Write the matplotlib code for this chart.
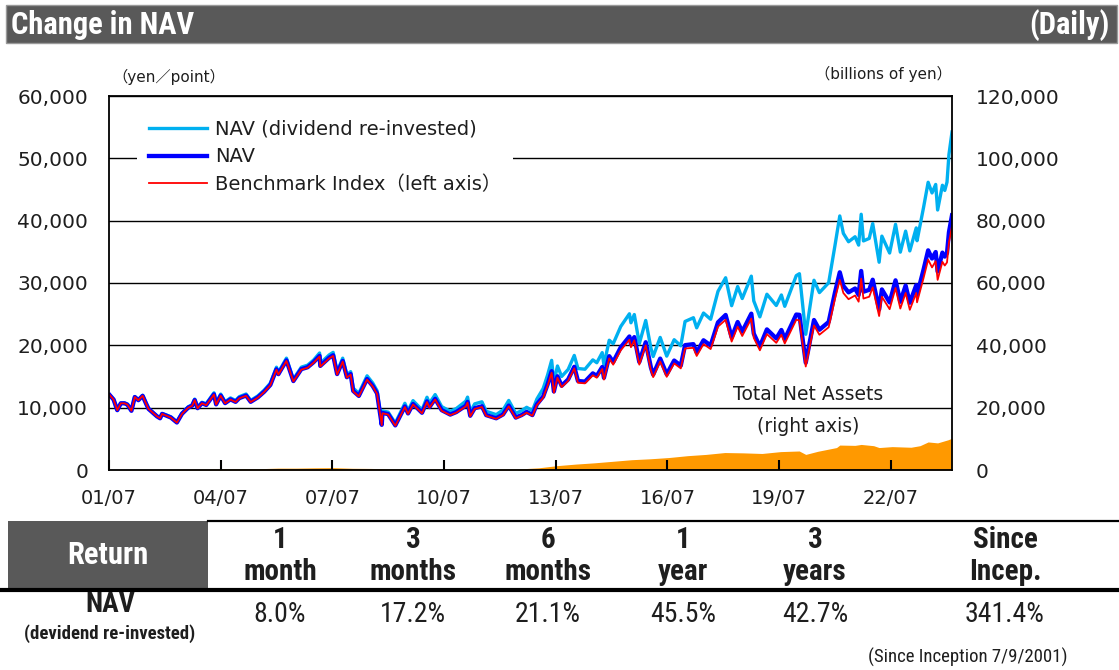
import pandas as pd
import matplotlib
matplotlib.use('Agg')
import matplotlib.pyplot as plt
import matplotlib.dates as mdates
from matplotlib.patches import Rectangle
from matplotlib.lines import Line2D
from matplotlib.ticker import FuncFormatter
from matplotlib import font_manager

plt.rcParams['font.family'] = ['DejaVu Sans', 'Noto Sans CJK JP']

installed = {f.name for f in font_manager.fontManager.ttflist}
narrow = next((n for n in ['Liberation Sans Narrow', 'DejaVu Sans Condensed', 'Roboto Condensed', 'Roboto']
               if n in installed), 'DejaVu Sans')

# --- NAV data (left axis, yen / point) ---
dates = ['2001-07-09', '2001-08-15', '2001-09-20', '2001-10-25', '2001-11-30', '2001-12-28',
         '2002-02-06', '2002-03-11', '2002-04-15', '2002-05-27', '2002-07-01', '2002-07-24', '2002-09-04', '2002-10-15', '2002-11-14', '2002-12-04',
         '2003-01-15', '2003-02-28', '2003-04-28', '2003-06-17', '2003-08-18', '2003-09-25', '2003-10-20', '2003-11-17', '2003-12-30',
         '2004-02-10', '2004-04-26', '2004-05-17', '2004-07-01', '2004-08-13', '2004-10-05', '2004-11-24', '2004-12-30',
         '2005-03-07', '2005-04-21', '2005-06-30', '2005-08-31', '2005-10-31', '2005-12-30',
         '2006-01-18', '2006-04-07', '2006-06-14', '2006-08-31', '2006-10-31', '2006-12-29',
         '2007-02-26', '2007-03-05', '2007-05-31', '2007-07-09', '2007-08-17', '2007-10-11', '2007-11-21', '2007-12-28',
         '2008-01-22', '2008-03-17', '2008-06-06', '2008-07-31', '2008-09-12', '2008-10-28', '2008-11-04', '2008-12-30',
         '2009-03-10', '2009-06-12', '2009-07-13', '2009-08-31', '2009-11-27',
         '2010-01-15', '2010-02-08', '2010-04-05', '2010-06-08', '2010-08-31', '2010-10-29',
         '2011-01-31', '2011-02-17', '2011-03-15', '2011-04-28', '2011-07-08', '2011-08-19', '2011-11-25',
         '2012-01-31', '2012-03-27', '2012-06-04', '2012-07-31', '2012-09-19', '2012-11-14', '2012-12-28',
         '2013-02-28', '2013-04-12', '2013-05-22', '2013-06-13', '2013-07-18', '2013-08-28', '2013-10-31', '2013-12-30',
         '2014-02-04', '2014-04-14', '2014-06-30', '2014-08-08', '2014-09-30', '2014-10-17', '2014-12-08',
         '2015-01-16', '2015-03-31', '2015-06-24', '2015-07-09', '2015-08-11', '2015-09-29', '2015-12-01',
         '2016-01-21', '2016-02-12', '2016-04-21', '2016-06-24', '2016-09-05', '2016-11-09', '2016-12-21',
         '2017-03-13', '2017-04-14', '2017-06-20', '2017-08-29', '2017-11-09',
         '2018-01-23', '2018-03-23', '2018-05-21', '2018-07-05', '2018-10-02', '2018-10-26', '2018-12-25',
         '2019-03-04', '2019-06-04', '2019-07-24', '2019-08-26', '2019-12-17',
         '2020-01-17', '2020-03-19', '2020-06-08', '2020-07-31', '2020-10-30', '2020-12-30',
         '2021-02-16', '2021-03-23', '2021-05-13', '2021-07-16', '2021-08-20', '2021-09-14', '2021-10-06', '2021-12-02',
         '2022-01-05', '2022-03-09', '2022-04-05', '2022-06-20', '2022-08-17', '2022-10-03', '2022-11-24',
         '2023-01-04', '2023-03-08', '2023-03-16', '2023-05-19', '2023-07-03', '2023-08-10', '2023-09-15', '2023-10-04', '2023-11-20', '2023-12-13',
         '2024-01-04', '2024-01-23', '2024-02-22']

benchmark = [12000, 11300, 9600, 10700, 10700, 10500,
             9500, 11700, 11200, 11900, 10600, 9800, 9200, 8600, 8300, 9000,
             8700, 8400, 7600, 9000, 10000, 10300, 11200, 9900, 10700,
             10400, 12100, 10500, 11900, 10700, 11300, 10900, 11500,
             11900, 10900, 11600, 12500, 13600, 16100,
             15300, 17500, 14200, 16100, 16400, 17200,
             18200, 16600, 17900, 18300, 15300, 17400, 14800, 15300,
             12600, 11800, 14500, 13400, 12200, 7200, 9100, 8900,
             7100, 10100, 9000, 10500, 9100,
             10900, 10000, 11300, 9500, 8800, 9200,
             10200, 10800, 8600, 9800, 10100, 8700, 8200,
             8800, 10200, 8300, 8700, 9200, 8700, 10400,
             11600, 13500, 15600, 12400, 14800, 13300, 14300, 16300,
             14000, 13900, 15200, 14800, 16200, 14500, 17900,
             16900, 19200, 20900, 19700, 20800, 16900, 20000,
             16000, 14900, 17400, 14950, 17100, 16300, 19500,
             19600, 18300, 20200, 19400, 23000,
             24100, 20600, 23000, 21500, 24300, 21200, 19200,
             21800, 20400, 21700, 20300, 24100,
             24000, 16600, 23200, 21700, 22900, 27400,
             30500, 28400, 27400, 28000, 27000, 30700, 27500, 27800,
             29300, 24700, 27800, 25800, 29200, 25900, 28400,
             25700, 28400, 26900, 30800, 33750, 32500, 33500, 30500, 33400, 32800,
             33300, 36500, 39100]

nav = [12000, 11300, 9600, 10700, 10700, 10500,
       9500, 11700, 11200, 11900, 10600, 9800, 9200, 8600, 8300, 9000,
       8720, 8420, 7620, 9020, 10020, 10320, 11220, 9920, 10720,
       10430, 12140, 10530, 11940, 10730, 11330, 10930, 11530,
       11950, 10940, 11650, 12550, 13650, 16160,
       15380, 17590, 14270, 16180, 16480, 17290,
       18310, 16700, 18010, 18410, 15390, 17500, 14890, 15390,
       12690, 11880, 14600, 13490, 12290, 7250, 9160, 8960,
       7160, 10190, 9080, 10590, 9180,
       11010, 10100, 11410, 9600, 8890, 9290,
       10320, 10930, 8700, 9920, 10220, 8800, 8300,
       8910, 10330, 8410, 8810, 9320, 8810, 10540,
       11790, 13720, 15850, 12600, 15040, 13510, 14530, 16560,
       14280, 14180, 15500, 15100, 16520, 14790, 18260,
       17320, 19680, 21420, 20190, 21320, 17320, 20500,
       16430, 15300, 17870, 15350, 17560, 16740, 20030,
       20190, 18850, 20810, 19980, 23690,
       24870, 21260, 23740, 22190, 25080, 21880, 19810,
       22560, 21110, 22460, 21010, 24940,
       24890, 17210, 24060, 22500, 23750, 28410,
       31720, 29540, 28500, 29120, 28080, 31930, 28600, 28910,
       30530, 25740, 28970, 26880, 30430, 26990, 29590,
       26830, 29650, 28080, 32160, 35240, 33930, 34970, 31840, 34870, 34240,
       34800, 38140, 40860]

nav_div = [12000, 11310, 9620, 10730, 10730, 10540,
           9560, 11780, 11280, 11980, 10670, 9870, 9260, 8660, 8360, 9060,
           8830, 8530, 7720, 9140, 10150, 10450, 11370, 10050, 10860,
           10640, 12380, 10740, 12180, 10950, 11560, 11150, 11760,
           12190, 11160, 11880, 12800, 13930, 16490,
           15680, 17940, 14560, 16500, 16810, 17630,
           18770, 17120, 18460, 18870, 15780, 17940, 15260, 15780,
           13130, 12300, 15110, 13970, 12720, 7500, 9490, 9280,
           7520, 10700, 9540, 11130, 9640,
           11670, 10710, 12100, 10170, 9420, 9850,
           11050, 11690, 9310, 10610, 10940, 9420, 8880,
           9630, 11160, 9080, 9520, 10060, 9520, 11380,
           13080, 15230, 17590, 13990, 16690, 15000, 16130, 18380,
           16280, 16170, 17670, 17210, 18830, 16860, 20820,
           20260, 23030, 25060, 23620, 24940, 20260, 23990,
           19550, 18210, 21270, 18270, 20900, 19920, 23830,
           24430, 22810, 25180, 24180, 28660,
           30840, 26360, 29430, 27510, 31100, 27130, 24570,
           28200, 26390, 28080, 26260, 31180,
           31490, 21770, 30440, 28460, 30040, 35940,
           40760, 37960, 36620, 37420, 36080, 41030, 36750, 37150,
           39540, 33330, 37520, 34810, 39410, 34950, 38320,
           35150, 38840, 36780, 42130, 46160, 44450, 45810, 41710, 45680, 44850,
           46180, 50610, 54220]

# --- total net assets (right axis, billions of yen) ---
tna_dates = ['2001-07-09', '2002-01-15', '2002-07-15', '2003-01-15', '2003-07-15', '2004-01-15', '2004-07-15',
             '2005-01-14', '2005-07-15', '2006-01-16', '2006-07-14', '2007-01-15', '2007-07-13', '2008-01-15',
             '2008-07-15', '2009-01-15', '2009-07-15', '2010-01-15', '2010-07-15', '2011-01-14', '2011-07-15',
             '2012-01-16', '2012-07-13', '2013-01-15', '2013-07-16', '2014-01-15', '2014-07-15', '2015-01-15',
             '2015-07-15', '2016-01-15', '2016-07-15', '2017-01-16', '2017-07-14', '2018-01-15', '2018-07-13',
             '2019-01-15', '2019-07-16', '2020-01-15', '2020-03-19', '2020-07-15', '2021-01-15', '2021-02-16',
             '2021-07-15', '2021-09-14', '2022-01-14', '2022-03-09', '2022-07-15', '2023-01-16', '2023-04-14',
             '2023-07-03', '2023-10-04', '2024-01-15', '2024-02-22']
tna = [30, 100, 150, 150, 250, 300, 350, 380, 420, 600, 600, 700, 750, 550, 500, 350, 350, 350, 300, 350,
       350, 350, 350, 700, 1400, 1900, 2300, 2800, 3300, 3600, 4000, 4600, 5000, 5600, 5500, 5300, 5900,
       6100, 5000, 6000, 7200, 8000, 7900, 8200, 7800, 7200, 7500, 7300, 7800, 9000, 8700, 9700, 10200]

# --- return table ---
periods = [('1', 'month'), ('3', 'months'), ('6', 'months'), ('1', 'year'), ('3', 'years'), ('Since', 'Incep.')]
returns = ['8.0%', '17.2%', '21.1%', '45.5%', '42.7%', '341.4%']
col_x = [280, 413, 548, 683, 815, 1005]

W, H = 1119, 670
fig = plt.figure(figsize=(W / 100, H / 100), dpi=100)
fx = lambda px: px / W
fy = lambda py: 1 - py / H
txt = '#1e1e1e'

# header bar
fig.add_artist(Rectangle((fx(6), fy(43)), fx(1117 - 6), (43 - 5) / H, transform=fig.transFigure,
                         facecolor='#595959', edgecolor='#9a9a9a', lw=1))
fig.text(fx(11), fy(25), 'Change in NAV', color='white', fontsize=22, fontweight='bold',
         family=narrow, va='center', ha='left')
fig.text(fx(1110), fy(25), '(Daily)', color='white', fontsize=22, fontweight='bold',
         family=narrow, va='center', ha='right')

# chart
ax = fig.add_axes([fx(109), fy(470), fx(952 - 109), (470 - 96) / H])
ax2 = ax.twinx()
ax2.fill_between(pd.to_datetime(tna_dates), tna, color='#FF9900', lw=0)
ax2.set_ylim(0, 120000)
ax2.set_yticks(range(0, 120001, 20000))
ax.set_zorder(ax2.get_zorder() + 1)
ax.patch.set_visible(False)

d = pd.to_datetime(dates)
l_div, = ax.plot(d, nav_div, color='#00B0F0', lw=2.4)
l_nav, = ax.plot(d, nav, color='#0000FF', lw=3.1)
l_bm, = ax.plot(d, benchmark, color='#FF0000', lw=1.3)

ax.set_ylim(0, 60000)
ax.set_yticks(range(0, 60001, 10000))
ax.set_xlim(pd.Timestamp('2001-07-01'), pd.Timestamp('2024-02-22'))
ax.set_xticks([pd.Timestamp(f'{y}-07-01') for y in range(2001, 2023, 3)])
ax.xaxis.set_major_formatter(mdates.DateFormatter('%y/%m'))
comma = FuncFormatter(lambda v, p: f'{int(v):,}')
ax.yaxis.set_major_formatter(comma)
ax2.yaxis.set_major_formatter(comma)

ax.yaxis.grid(True, color='black', lw=1)
ax.set_axisbelow(True)
for s in ax2.spines.values():
    s.set_visible(False)
for s in ['left', 'right', 'bottom', 'top']:
    ax.spines[s].set_color('black')
    ax.spines[s].set_linewidth(1.3)
ax.tick_params(axis='y', length=0, pad=15, labelsize=14.5, labelcolor=txt)
ax2.tick_params(axis='y', length=0, pad=17, labelsize=14.5, labelcolor=txt)
ax.tick_params(axis='x', direction='in', length=7, width=1.5, pad=14, labelsize=14, labelcolor=txt)

ax.legend([l_div, l_nav, l_bm], ['NAV (dividend re-invested)', 'NAV', 'Benchmark Index（left axis）'],
          loc='upper left', bbox_to_anchor=(fx(137), fy(108)), bbox_transform=fig.transFigure,
          frameon=True, facecolor='white', edgecolor='none', framealpha=1, fancybox=False,
          fontsize=14, handlelength=3.0, handletextpad=0.4, labelspacing=0.45, borderpad=0.6,
          borderaxespad=0, labelcolor=txt)

fig.text(fx(112), fy(77), '（yen／point）', fontsize=11, va='center', ha='left', color=txt)
fig.text(fx(952), fy(74), '（billions of yen）', fontsize=11, va='center', ha='right', color=txt)
fig.text(fx(808), fy(395), 'Total Net Assets', fontsize=13.5, ha='center', va='center', color=txt)
fig.text(fx(808), fy(427), '(right axis)', fontsize=13.5, ha='center', va='center', color=txt)

# return table
fig.add_artist(Rectangle((fx(8), fy(588)), fx(200), (588 - 521) / H, transform=fig.transFigure,
                         facecolor='#595959', edgecolor='none'))
fig.add_artist(Line2D([fx(208), 1], [fy(521), fy(521)], transform=fig.transFigure, color='black', lw=1.6))
fig.add_artist(Line2D([0, 1], [fy(590), fy(590)], transform=fig.transFigure, color='black', lw=3))
fig.text(fx(108), fy(555), 'Return', color='white', fontsize=22, fontweight='bold', family=narrow,
         ha='center', va='center')
for x, (a, b), r in zip(col_x, periods, returns):
    fig.text(fx(x), fy(540), a, fontsize=21, fontweight='bold', family=narrow, ha='center', va='center', color=txt)
    fig.text(fx(x), fy(572), b, fontsize=21, fontweight='bold', family=narrow, ha='center', va='center', color=txt)
    fig.text(fx(x), fy(614), r, fontsize=20, family=narrow, ha='center', va='center', color=txt)
fig.text(fx(110), fy(604), 'NAV', fontsize=20, fontweight='bold', family=narrow, ha='center', va='center', color=txt)
fig.text(fx(110), fy(634), '(devidend re-invested)', fontsize=13.5, fontweight='bold', family=narrow,
         ha='center', va='center', color=txt)
fig.text(fx(1068), fy(657), '(Since Inception 7/9/2001)', fontsize=13.5, family=narrow,
         ha='right', va='center', color=txt)

fig.savefig('out.png', dpi=100)
